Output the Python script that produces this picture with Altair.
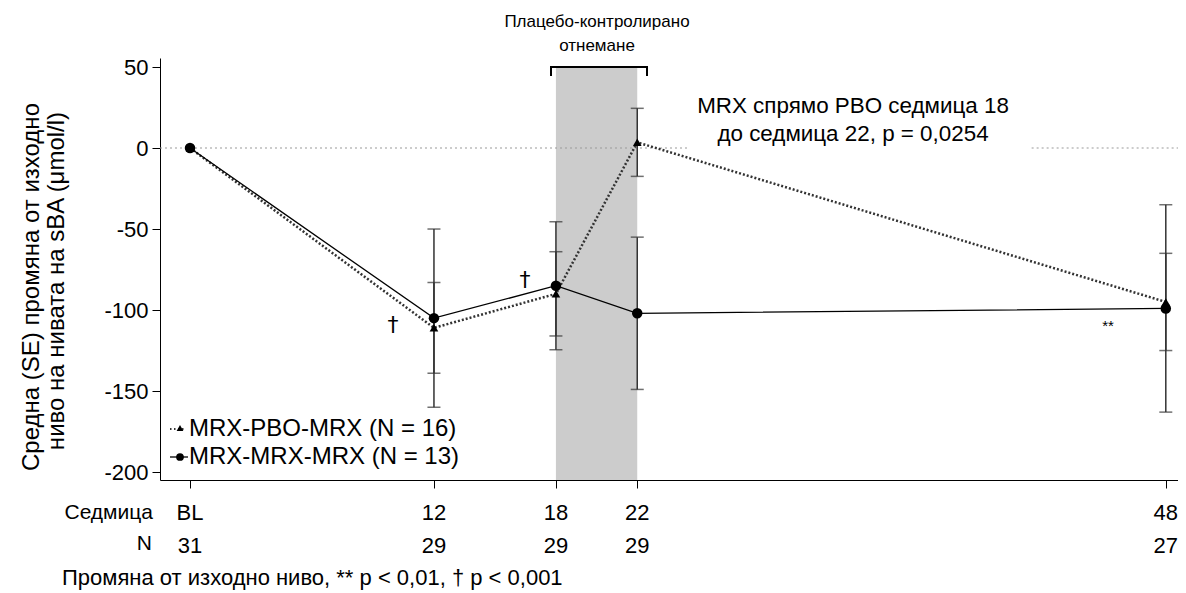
import altair as alt
import pandas as pd

# ---- data ----
weeks = [0, 12, 18, 22, 48]
week_labels = ["BL", "12", "18", "22", "48"]
n_labels = ["31", "29", "29", "29", "27"]
pbo_mean = [0, -111, -90, 3.5, -95]
pbo_se = [0, 28, 26, 21, 30]
mrx_mean = [0, -105, -85, -102, -99]
mrx_se = [0, 55, 39.5, 47, 64]
y_ticks = [-200, -150, -100, -50, 0, 50]

FONT = "Liberation Sans"
W, H = 1018, 422
XDOM = [-1.476, 48.6]
YDOM = [-204.9, 55.56]

rows = []
for i, w in enumerate(weeks):
    rows.append(dict(week=w, series="PBO", mean=pbo_mean[i], se=pbo_se[i],
                     lo=pbo_mean[i] - pbo_se[i], hi=pbo_mean[i] + pbo_se[i]))
    rows.append(dict(week=w, series="MRX", mean=mrx_mean[i], se=mrx_se[i],
                     lo=mrx_mean[i] - mrx_se[i], hi=mrx_mean[i] + mrx_se[i]))
df = pd.DataFrame(rows)
pbo = df[df.series == "PBO"]
mrx = df[df.series == "MRX"]
err = df[df.se > 0]

lab = pd.DataFrame(dict(week=weeks, wl=week_labels, nl=n_labels))

xs = alt.Scale(domain=XDOM, nice=False, zero=False)
ys = alt.Scale(domain=YDOM, nice=False, zero=False)
XA = alt.Axis(values=weeks, labels=False, title=None, tickSize=8, tickColor="#000",
              domainColor="#000", grid=False, tickWidth=1, domainWidth=1)
YA = alt.Axis(values=y_ticks, title=None, tickSize=8, tickColor="#000", domainColor="#000",
              grid=False, labelFontSize=22, labelColor="#000", labelFont=FONT, labelPadding=4,
              tickWidth=1, domainWidth=1, labelExpr="datum.value + ''")


def xq(f):
    return alt.X(f, scale=xs, axis=XA, title=None)


def yq(f):
    return alt.Y(f, scale=ys, axis=YA, title=None)


one = alt.Data(values=[{}])

# grey placebo-withdrawal band
band = alt.Chart(one).mark_rect(color="#cccccc").encode(
    x=xq("a:Q"), x2="b:Q", y=yq("c:Q"), y2="d:Q",
).transform_calculate(a="18", b="22", c="50", d=str(YDOM[0]))

# zero reference dotted line, broken behind the annotation text
zero_segs = alt.Chart(alt.Data(values=[{"a": XDOM[0], "b": 24.5}, {"a": 41.4, "b": XDOM[1]}])).mark_rule(
    color="#999999", strokeDash=[2, 3], strokeWidth=1.2).encode(
    x=xq("a:Q"), x2="b:Q", y=yq("z:Q"),
).transform_calculate(z="0")

# error bars
ebar = alt.Chart(err).mark_rule(color="#333333", strokeWidth=1.5).encode(
    x=xq("week:Q"), y=yq("lo:Q"), y2="hi:Q")
cap_lo = alt.Chart(err).mark_tick(color="#333333", thickness=1.5, size=13, orient="horizontal").encode(
    x=xq("week:Q"), y=yq("lo:Q"))
cap_hi = alt.Chart(err).mark_tick(color="#333333", thickness=1.5, size=13, orient="horizontal").encode(
    x=xq("week:Q"), y=yq("hi:Q"))

# series lines and markers
line_pbo = alt.Chart(pbo).mark_line(color="#333333", strokeWidth=2.5, strokeDash=[2, 2]).encode(
    x=xq("week:Q"), y=yq("mean:Q"))
line_mrx = alt.Chart(mrx).mark_line(color="#000000", strokeWidth=1.3).encode(
    x=xq("week:Q"), y=yq("mean:Q"))
pt_pbo = alt.Chart(pbo).mark_point(shape="triangle-up", filled=True, color="#000", size=75, opacity=1).encode(
    x=xq("week:Q"), y=yq("mean:Q"))
pt_mrx = alt.Chart(mrx).mark_point(shape="circle", filled=True, color="#000", size=110, opacity=1).encode(
    x=xq("week:Q"), y=yq("mean:Q"))

# x-axis label rows
wk_text = alt.Chart(lab).mark_text(font=FONT, fontSize=22, color="#000", baseline="middle").encode(
    x=xq("week:Q"), y=alt.value(455), text="wl:N")
n_text = alt.Chart(lab).mark_text(font=FONT, fontSize=22, color="#000", baseline="middle").encode(
    x=xq("week:Q"), y=alt.value(488), text="nl:N")


def txt(s, x, y, size=20, align="center", angle=0, baseline="middle", font=FONT):
    return alt.Chart(one).mark_text(font=font, fontSize=size, color="#000", align=align,
                                    baseline=baseline, angle=angle).encode(
        x=alt.value(x), y=alt.value(y), text=alt.value(s))


def rule(x1, y1, x2, y2, width=1.0, dash=None, color="#000"):
    kw = dict(color=color, strokeWidth=width)
    if dash:
        kw["strokeDash"] = dash
    return alt.Chart(one).mark_rule(**kw).encode(
        x=alt.value(x1), y=alt.value(y1), x2=alt.value(x2), y2=alt.value(y2))


annots = [
    txt("Седмица", -7, 455, size=21, align="right"),
    txt("N", -8, 486, size=21, align="right"),
    txt("Промяна от изходно ниво, ** p < 0,01, † p < 0,001", -98, 520, size=22, align="left"),
    txt("Средна (SE) промяна от изходно", -128, 229, size=24, angle=270),
    txt("ниво на нивата на sBA (μmol/l)", -103, 223, size=24, angle=270),
    txt("Плацебо-контролирано", 437, -36, size=17),
    txt("отнемане", 437, -12, size=17),
    txt("MRX спрямо PBO седмица 18", 693, 48, size=22.4),
    txt("до седмица 22, p = 0,0254", 693, 76, size=22.4),
    txt("†", 233, 267, size=22, font="DejaVu Sans"),
    txt("†", 365, 222, size=22, font="DejaVu Sans"),
    txt("**", 948, 268, size=15),
    # bracket over the band
    rule(390, 9, 488, 9, width=2),
    rule(391, 9, 391, 18, width=2),
    rule(487, 9, 487, 18, width=2),
    # legend
    rule(10, 371, 26, 371, width=2, dash=[1.5, 2.5], color="#333"),
    txt("MRX-PBO-MRX (N = 16)", 29, 371, size=24, align="left"),
    rule(10, 399, 28, 399, width=1.3),
    txt("MRX-MRX-MRX (N = 13)", 29, 399, size=24, align="left"),
]
leg_tri = alt.Chart(one).mark_point(shape="triangle-up", filled=True, color="#000", size=45, opacity=1).encode(
    x=alt.value(20), y=alt.value(370))
leg_cir = alt.Chart(one).mark_point(shape="circle", filled=True, color="#000", size=60, opacity=1).encode(
    x=alt.value(20), y=alt.value(399))

chart = alt.layer(
    band, zero_segs, ebar, cap_lo, cap_hi, line_pbo, line_mrx, pt_pbo, pt_mrx,
    wk_text, n_text, *annots, leg_tri, leg_cir,
).properties(
    width=W, height=H,
    autosize=alt.AutoSizeParams(type="none"),
    padding={"left": 152, "top": 50, "right": 0, "bottom": 118},
    background="white",
).configure_view(stroke=None).configure_axis(labelFont=FONT)

chart.save("out.html", embed_options={"renderer": "svg", "actions": False})
